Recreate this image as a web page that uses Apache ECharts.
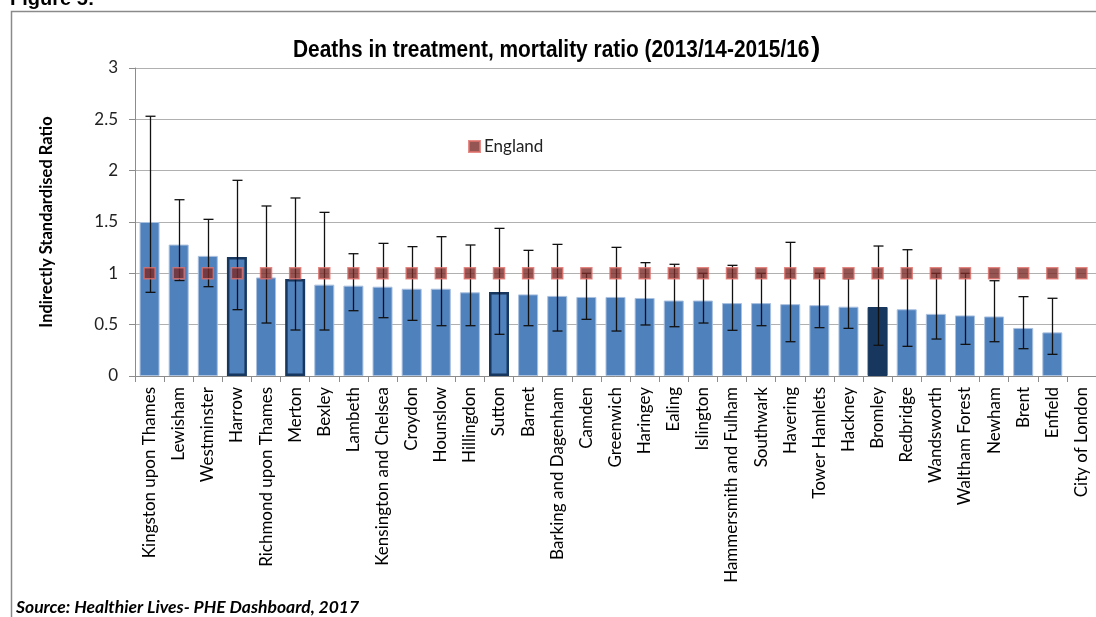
<!DOCTYPE html>
<html>
<head>
<meta charset="utf-8">
<script src="https://cdn.jsdelivr.net/npm/echarts@6/dist/echarts.min.js"></script>
<style>
  html, body { margin: 0; padding: 0; background: #fff; }
  #chart { width: 1096px; height: 617px; }
</style>
</head>
<body>
<div id="chart"></div>
<script>
var categories = ['Kingston upon Thames', 'Lewisham', 'Westminster', 'Harrow', 'Richmond upon Thames',
    'Merton', 'Bexley', 'Lambeth', 'Kensington and Chelsea', 'Croydon', 'Hounslow', 'Hillingdon',
    'Sutton', 'Barnet', 'Barking and Dagenham', 'Camden', 'Greenwich', 'Haringey', 'Ealing',
    'Islington', 'Hammersmith and Fulham', 'Southwark', 'Havering', 'Tower Hamlets', 'Hackney',
    'Bromley', 'Redbridge', 'Wandsworth', 'Waltham Forest', 'Newham', 'Brent', 'Enfield', 'City of London'];
var ratio = [1.50, 1.28, 1.17, 1.16, 0.96, 0.945, 0.89, 0.88, 0.87, 0.85, 0.85, 0.815,
    0.818, 0.795, 0.78, 0.77, 0.77, 0.76, 0.735, 0.735, 0.71, 0.71, 0.70, 0.69, 0.675,
    0.672, 0.65, 0.605, 0.59, 0.58, 0.468, 0.425, null];
var lowerCI = [0.815, 0.93, 0.87, 0.646, 0.516, 0.448, 0.448, 0.636, 0.568, 0.542, 0.49, 0.49,
    0.406, 0.49, 0.438, 0.552, 0.438, 0.497, 0.48, 0.516, 0.445, 0.49, 0.334, 0.471, 0.464,
    0.299, 0.289, 0.36, 0.308, 0.334, 0.266, 0.211, null];
var upperCI = [2.53, 1.717, 1.526, 1.906, 1.656, 1.734, 1.594, 1.191, 1.292, 1.26, 1.357, 1.276,
    1.438, 1.224, 1.282, 1.0, 1.253, 1.104, 1.088, 1.0, 1.078, 1.0, 1.302, 1.0, 0.948,
    1.266, 1.23, 1.0, 1.0, 0.928, 0.773, 0.757, null];
var england = [1, 1, 1, 1, 1, 1, 1, 1, 1, 1, 1, 1, 1, 1, 1, 1, 1, 1, 1, 1, 1, 1, 1, 1, 1, 1, 1, 1, 1, 1, 1, 1, 1];
var outlined = ['Harrow', 'Merton', 'Sutton'];
var filledDark = ['Bromley'];
var yTicks = [0, 0.5, 1, 1.5, 2, 2.5, 3];

var chart = echarts.init(document.getElementById('chart'));

var barData = ratio.map(function (v, i) {
    var name = categories[i];
    var item = { value: v };
    if (outlined.indexOf(name) >= 0) {
        item.itemStyle = { borderColor: '#17375E', borderWidth: 2.5 };
    } else if (filledDark.indexOf(name) >= 0) {
        item.itemStyle = { color: '#17375E', borderColor: '#17375E' };
    }
    return item;
});

var errData = [];
for (var i = 0; i < categories.length; i++) {
    if (lowerCI[i] != null) errData.push([i, lowerCI[i], upperCI[i]]);
}

// whiskers for the confidence interval
function renderError(params, api) {
    var x = api.value(0);
    var lo = api.coord([x, api.value(1)]);
    var hi = api.coord([x, api.value(2)]);
    var cx = Math.round(lo[0]) + 0.5;
    var style = { stroke: '#111', lineWidth: 1.3 };
    return {
        type: 'group',
        children: [
            { type: 'line', shape: { x1: cx, y1: hi[1], x2: cx, y2: lo[1] }, style: style },
            { type: 'line', shape: { x1: cx - 5, y1: hi[1], x2: cx + 5, y2: hi[1] }, style: style },
            { type: 'line', shape: { x1: cx - 5, y1: lo[1], x2: cx + 5, y2: lo[1] }, style: style }
        ]
    };
}

var option = {
    animation: false,
    backgroundColor: '#fff',
    legend: {
        left: 463,
        top: 133,
        itemWidth: 11,
        itemHeight: 11,
        itemGap: 4,
        data: [{ name: 'England', icon: 'rect' }],
        textStyle: { fontFamily: 'Lato', fontSize: 17, color: '#222', padding: [0, 0, 0, -1] }
    },
    graphic: [
        { type: 'rect', shape: { x: 11.5, y: 11.5, width: 1200, height: 700 }, style: { fill: 'none', stroke: '#8a8a8a', lineWidth: 1.5 }, silent: true },
        { type: 'text', x: 10, y: 9, style: { text: 'Figure 5:', font: 'bold 20px Liberation Sans', fill: '#000', textVerticalAlign: 'bottom' } },
        { type: 'text', x: 293, y: 50, scaleX: 0.87, style: { text: 'Deaths in treatment, mortality ratio (2013/14-2015/16', font: 'bold 24px Liberation Sans', fill: '#000', textVerticalAlign: 'middle' } },
        { type: 'text', x: 811, y: 48, style: { text: ')', font: 'bold 28px Liberation Sans', fill: '#000', textVerticalAlign: 'middle' } },
        { type: 'text', x: 16, y: 607, style: { text: 'Source: Healthier Lives- PHE Dashboard, 2017', font: 'italic bold 17.5px Lato', fill: '#000', textVerticalAlign: 'middle' } }
    ],
    grid: {
        left: 135,
        top: 68,
        width: 968,
        height: 308
    },
    xAxis: {
        type: 'category',
        data: categories,
        boundaryGap: true,
        axisLine: { lineStyle: { color: '#8c8c8c', width: 1 } },
        axisTick: { show: true, length: 6, lineStyle: { color: '#8c8c8c' } },
        axisLabel: { interval: 0, rotate: 90, margin: 11, fontFamily: 'Lato', fontSize: 17, color: '#000' }
    },
    yAxis: {
        type: 'value',
        min: yTicks[0],
        max: yTicks[yTicks.length - 1],
        interval: 0.5,
        name: 'Indirectly Standardised Ratio',
        nameLocation: 'middle',
        nameRotate: 90,
        nameGap: 80,
        nameTextStyle: { fontFamily: 'Lato', fontWeight: 'bold', fontSize: 16.5, color: '#000' },
        axisLine: { show: true, lineStyle: { color: '#8c8c8c', width: 1 } },
        axisTick: { show: true, inside: false, length: 6, lineStyle: { color: '#8c8c8c' } },
        axisLabel: { margin: 17, fontFamily: 'Lato', fontSize: 17, color: '#222' },
        splitLine: { lineStyle: { color: '#b0b0b0', width: 1.2 } }
    },
    series: [
        {
            name: 'ISR',
            type: 'bar',
            data: barData,
            barWidth: 20,
            itemStyle: { color: '#4F81BD', borderColor: '#A9C0DF', borderWidth: 1 },
            z: 2
        },
        {
            name: 'CI',
            type: 'custom',
            data: errData,
            renderItem: renderError,
            encode: { x: 0, y: [1, 2] },
            z: 3
        },
        {
            name: 'England',
            type: 'scatter',
            data: england,
            symbol: 'rect',
            symbolSize: 11,
            itemStyle: { color: '#7B2A28', borderColor: '#E0706C', borderWidth: 1.5 },
            z: 4
        }
    ]
};

chart.setOption(option);
window.addEventListener('resize', chart.resize);
</script>
</body>
</html>
